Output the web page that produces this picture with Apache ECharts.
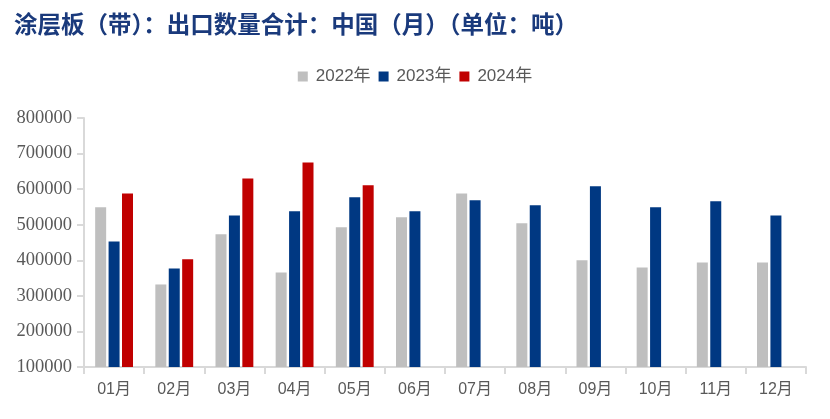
<!DOCTYPE html>
<html><head><meta charset="utf-8">
<script src="https://cdn.jsdelivr.net/npm/echarts@6/dist/echarts.min.js"></script>
<style>html,body{margin:0;padding:0;background:#fff}#c{width:830px;height:419px}</style>
</head><body><div id="c"></div>
<script>
var categories = ['01月','02月','03月','04月','05月','06月','07月','08月','09月','10月','11月','12月'];
var s2022 = [549000,332000,473000,366000,493000,521000,588000,504000,400000,380000,394000,394000];
var s2023 = [453000,377000,526000,538000,577000,538000,569000,555000,608000,549000,566000,526000];
var s2024 = [588000,403000,630000,675000,611000,null,null,null,null,null,null,null];
var chart = echarts.init(document.getElementById('c'));
chart.setOption({
  animation:false,
  title:{text:'涂层板（带）：出口数量合计：中国（月）（单位：吨）',left:9,top:7,
    textStyle:{fontFamily:'"Noto Sans CJK SC"',fontWeight:'bold',fontSize:23.5,color:'#1a3a7c'}},
  legend:{top:63,left:'center',itemWidth:10,itemHeight:10,itemGap:8,icon:'rect',
    textStyle:{fontSize:17,color:'#595959',padding:[0,0,0,3],fontFamily:'"Liberation Sans","Noto Sans CJK SC"'},
    data:['2022年','2023年','2024年']},
  grid:{left:84,right:24,top:118,bottom:52},
  xAxis:{type:'category',data:categories,
    axisLine:{lineStyle:{color:'#d9d9d9',width:2}},
    axisTick:{show:true,length:7,lineStyle:{color:'#d9d9d9',width:2}},
    axisLabel:{fontSize:16,color:'#595959',margin:15,fontFamily:'"Liberation Sans","Noto Sans CJK SC"'}},
  yAxis:{type:'value',min:100000,max:800000,interval:100000,
    axisLine:{show:true,lineStyle:{color:'#d9d9d9',width:2}},
    axisTick:{show:true,length:7,lineStyle:{color:'#d9d9d9',width:2}},
    splitLine:{show:false},
    axisLabel:{fontSize:18.5,color:'#595959',margin:12,fontFamily:'"Liberation Serif"',
      formatter:function(v){return String(v);}}},
  series:[
    {name:'2022年',type:'bar',data:s2022,barWidth:11,barGap:'22%',itemStyle:{color:'#bfbfbf'}},
    {name:'2023年',type:'bar',data:s2023,barWidth:11,barGap:'22%',itemStyle:{color:'#003882'}},
    {name:'2024年',type:'bar',data:s2024,barWidth:11,barGap:'22%',itemStyle:{color:'#c00000'}}
  ]
});
</script></body></html>
